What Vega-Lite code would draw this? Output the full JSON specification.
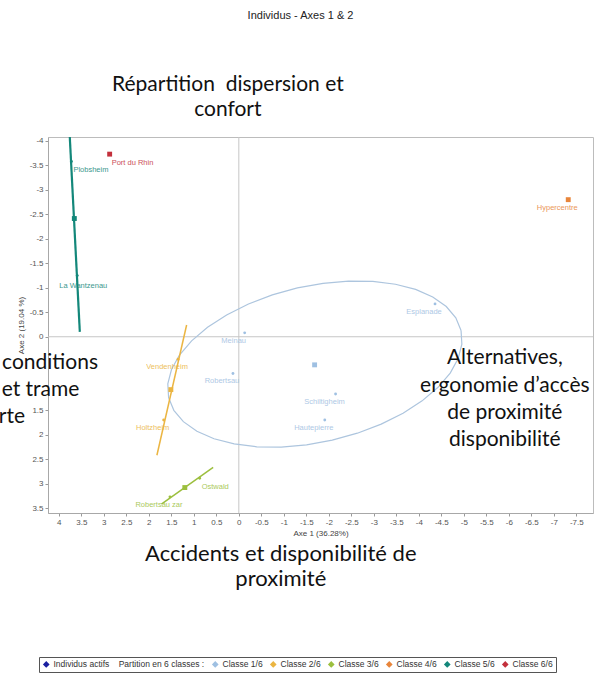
{
  "$schema": "https://vega.github.io/schema/vega-lite/v6.json",
  "width": 545,
  "height": 376,
  "autosize": {"type": "none"},
  "padding": {"left": 48, "top": 137, "right": 3, "bottom": 162},
  "background": "white",
  "title": {"text": "Individus - Axes 1 & 2", "font": "Liberation Sans", "fontSize": 11, "fontWeight": "normal", "color": "#222", "anchor": "middle", "dx": -20, "offset": 53},
  "config": {
    "view": {"stroke": "#bcbcbc", "strokeWidth": 1},
    "axis": {"labelFont": "Liberation Sans", "labelFontSize": 8, "labelColor": "#555", "tickColor": "#9a9a9a", "tickSize": 3, "domainColor": "#a8a8a8", "labelPadding": 2, "titleFont": "Liberation Sans", "titleFontSize": 8, "titleFontWeight": "normal", "titleColor": "#444", "grid": false, "labelFlush": false, "labelOverlap": false},
    "legend": {
      "orient": "none", "legendX": -9, "legendY": 520, "direction": "horizontal",
      "symbolType": "diamond", "symbolSize": 45, "symbolStrokeWidth": 0,
      "labelFont": "Liberation Sans", "labelFontSize": 8.5, "labelColor": "#333", "labelLimit": 400,
      "columnPadding": 6, "labelOffset": 3, "padding": 3, "strokeColor": "#555", "fillColor": "white"
    }
  },
  "datasets": {
    "individus": [
      {"nom": "Meinau", "classe": "Classe 1/6", "axe1": -0.13, "axe2": -0.08},
      {"nom": "Robertsau", "classe": "Classe 1/6", "axe1": 0.13, "axe2": 0.75},
      {"nom": "Esplanade", "classe": "Classe 1/6", "axe1": -4.36, "axe2": -0.67},
      {"nom": "Schiltigheim", "classe": "Classe 1/6", "axe1": -2.15, "axe2": 1.17},
      {"nom": "Hautepierre", "classe": "Classe 1/6", "axe1": -1.91, "axe2": 1.70},
      {"nom": "Vendenheim", "classe": "Classe 2/6", "axe1": 1.35, "axe2": 0.46},
      {"nom": "Holtzheim", "classe": "Classe 2/6", "axe1": 1.67, "axe2": 1.70},
      {"nom": "Ostwald", "classe": "Classe 3/6", "axe1": 0.87, "axe2": 2.89},
      {"nom": "Robertsau zar", "classe": "Classe 3/6", "axe1": 1.53, "axe2": 3.27},
      {"nom": "Hypercentre", "classe": "Classe 4/6", "axe1": -7.32, "axe2": -2.80},
      {"nom": "Plobsheim", "classe": "Classe 5/6", "axe1": 3.72, "axe2": -3.58},
      {"nom": "La Wantzenau", "classe": "Classe 5/6", "axe1": 3.59, "axe2": -1.25},
      {"nom": "Port du Rhin", "classe": "Classe 6/6", "axe1": 2.87, "axe2": -3.73}
    ],
    "axes_classes": [
      {"classe": "Classe 2/6", "ordre": 0, "axe1": 1.16, "axe2": -0.24},
      {"classe": "Classe 2/6", "ordre": 1, "axe1": 1.82, "axe2": 2.42},
      {"classe": "Classe 3/6", "ordre": 0, "axe1": 0.57, "axe2": 2.67},
      {"classe": "Classe 3/6", "ordre": 1, "axe1": 1.72, "axe2": 3.42},
      {"classe": "Classe 5/6", "ordre": 0, "axe1": 3.756, "axe2": -4.08},
      {"classe": "Classe 5/6", "ordre": 1, "axe1": 3.533, "axe2": -0.10}
    ],
    "ellipse": [
      {"ordre": 0, "axe1": -4.938, "axe2": -0.127},
      {"ordre": 1, "axe1": -4.956, "axe2": 0.153},
      {"ordre": 2, "axe1": -4.874, "axe2": 0.446},
      {"ordre": 3, "axe1": -4.697, "axe2": 0.743},
      {"ordre": 4, "axe1": -4.427, "axe2": 1.033},
      {"ordre": 5, "axe1": -4.073, "axe2": 1.309},
      {"ordre": 6, "axe1": -3.649, "axe2": 1.562},
      {"ordre": 7, "axe1": -3.164, "axe2": 1.785},
      {"ordre": 8, "axe1": -2.634, "axe2": 1.970},
      {"ordre": 9, "axe1": -2.076, "axe2": 2.113},
      {"ordre": 10, "axe1": -1.506, "axe2": 2.208},
      {"ordre": 11, "axe1": -0.942, "axe2": 2.253},
      {"ordre": 12, "axe1": -0.399, "axe2": 2.248},
      {"ordre": 13, "axe1": 0.103, "axe2": 2.189},
      {"ordre": 14, "axe1": 0.551, "axe2": 2.083},
      {"ordre": 15, "axe1": 0.931, "axe2": 1.929},
      {"ordre": 16, "axe1": 1.232, "axe2": 1.734},
      {"ordre": 17, "axe1": 1.444, "axe2": 1.503},
      {"ordre": 18, "axe1": 1.560, "axe2": 1.243},
      {"ordre": 19, "axe1": 1.578, "axe2": 0.963},
      {"ordre": 20, "axe1": 1.496, "axe2": 0.670},
      {"ordre": 21, "axe1": 1.319, "axe2": 0.373},
      {"ordre": 22, "axe1": 1.049, "axe2": 0.083},
      {"ordre": 23, "axe1": 0.695, "axe2": -0.193},
      {"ordre": 24, "axe1": 0.271, "axe2": -0.446},
      {"ordre": 25, "axe1": -0.214, "axe2": -0.669},
      {"ordre": 26, "axe1": -0.744, "axe2": -0.854},
      {"ordre": 27, "axe1": -1.302, "axe2": -0.997},
      {"ordre": 28, "axe1": -1.872, "axe2": -1.092},
      {"ordre": 29, "axe1": -2.436, "axe2": -1.137},
      {"ordre": 30, "axe1": -2.979, "axe2": -1.132},
      {"ordre": 31, "axe1": -3.481, "axe2": -1.073},
      {"ordre": 32, "axe1": -3.929, "axe2": -0.967},
      {"ordre": 33, "axe1": -4.309, "axe2": -0.813},
      {"ordre": 34, "axe1": -4.610, "axe2": -0.618},
      {"ordre": 35, "axe1": -4.822, "axe2": -0.387},
      {"ordre": 36, "axe1": -4.938, "axe2": -0.127}
    ],
    "annotations": [
      {"texte": "Répartition\u00a0\u00a0dispersion et", "axe1": 0.244, "axe2": -5.147},
      {"texte": "confort", "axe1": 0.244, "axe2": -4.636},
      {"texte": "Alternatives,", "axe1": -5.911, "axe2": 0.436},
      {"texte": "ergonomie d’accès", "axe1": -5.911, "axe2": 1.008},
      {"texte": "de proximité", "axe1": -5.911, "axe2": 1.560},
      {"texte": "disponibilité", "axe1": -5.911, "axe2": 2.112},
      {"texte": "Accidents et disponibilité de", "axe1": -0.933, "axe2": 4.429},
      {"texte": "proximité", "axe1": -0.933, "axe2": 4.941},
      {"texte": "conditions", "axe1": 5.26, "axe2": 0.538},
      {"texte": "et trame", "axe1": 5.27, "axe2": 1.090},
      {"texte": "rte", "axe1": 5.333, "axe2": 1.642}
    ]
  },
  "encoding": {
    "x": {
      "field": "axe1", "type": "quantitative",
      "scale": {"domain": [-7.87, 4.24], "reverse": true, "nice": false, "zero": false},
      "axis": {"title": "Axe 1 (36.28%)", "titlePadding": 3, "values": [-7.5, -7, -6.5, -6, -5.5, -5, -4.5, -4, -3.5, -3, -2.5, -2, -1.5, -1, -0.5, 0, 0.5, 1, 1.5, 2, 2.5, 3, 3.5, 4], "labelExpr": "'' + datum.value"}
    },
    "y": {
      "field": "axe2", "type": "quantitative",
      "scale": {"domain": [-4.08, 3.6], "reverse": true, "nice": false, "zero": false},
      "axis": {"title": "Axe 2 (19.04 %)", "titlePadding": 4, "values": [-4, -3.5, -3, -2.5, -2, -1.5, -1, -0.5, 0, 1.5, 2, 2.5, 3, 3.5], "labelExpr": "'' + datum.value"}
    },
    "color": {
      "field": "classe", "type": "nominal",
      "scale": {"domain": ["Individus actifs", "Classe 1/6", "Classe 2/6", "Classe 3/6", "Classe 4/6", "Classe 5/6", "Classe 6/6"], "range": ["#1a1fa0", "#9fc0e2", "#ebb542", "#9cbf3e", "#e8853a", "#13877a", "#c3303c"]},
      "legend": {
        "title": null,
        "labelExpr": "datum.label == 'Individus actifs' ? 'Individus actifs\u00a0\u00a0\u00a0\u00a0Partition en 6 classes :' : datum.label"
      }
    }
  },
  "layer": [
    {
      "data": {"values": [{"axe1": 0, "axe2": -4.08, "axe2_fin": 3.6}]},
      "mark": {"type": "rule", "color": "#c6c6c6", "strokeWidth": 1},
      "encoding": {"y2": {"field": "axe2_fin"}, "color": {"value": "#c6c6c6"}}
    },
    {
      "data": {"values": [{"axe1": 4.24, "axe1_fin": -7.87, "axe2": 0}]},
      "mark": {"type": "rule", "color": "#c6c6c6", "strokeWidth": 1},
      "encoding": {"x2": {"field": "axe1_fin"}, "color": {"value": "#c6c6c6"}}
    },
    {
      "data": {"name": "ellipse"},
      "mark": {"type": "line", "color": "#adc5de", "strokeWidth": 1.2, "clip": true},
      "encoding": {"order": {"field": "ordre", "type": "quantitative"}, "color": {"value": "#adc5de"}}
    },
    {
      "data": {"name": "axes_classes"},
      "mark": {"type": "line", "clip": true},
      "encoding": {
        "order": {"field": "ordre", "type": "quantitative"},
        "detail": {"field": "classe", "type": "nominal"},
        "strokeWidth": {"condition": {"test": "datum.classe === 'Classe 5/6'", "value": 2.2}, "value": 1.5}
      }
    },
    {
      "data": {"name": "individus"},
      "mark": {"type": "point", "filled": true, "shape": "circle", "size": 8, "opacity": 1}
    },
    {
      "data": {"name": "individus"},
      "transform": [{"aggregate": [{"op": "mean", "field": "axe1", "as": "axe1"}, {"op": "mean", "field": "axe2", "as": "axe2"}], "groupby": ["classe"]}],
      "mark": {"type": "square", "filled": true, "size": 24, "opacity": 1}
    },
    {
      "data": {"name": "individus"},
      "transform": [{"filter": {"field": "nom", "oneOf": ["Meinau", "Robertsau", "Esplanade", "Schiltigheim", "Hautepierre", "Hypercentre", "Vendenheim", "Holtzheim", "Robertsau zar"]}}],
      "mark": {"type": "text", "font": "Liberation Sans", "fontSize": 7.5, "align": "center", "baseline": "middle", "dx": -11, "dy": 8, "opacity": 0.85},
      "encoding": {"text": {"field": "nom"}}
    },
    {
      "data": {"name": "individus"},
      "transform": [{"filter": {"field": "nom", "oneOf": ["Port du Rhin", "Plobsheim", "Ostwald"]}}],
      "mark": {"type": "text", "font": "Liberation Sans", "fontSize": 7.5, "align": "left", "baseline": "middle", "dx": 2, "dy": 9, "opacity": 0.85},
      "encoding": {"text": {"field": "nom"}}
    },
    {
      "data": {"name": "individus"},
      "transform": [{"filter": {"field": "nom", "oneOf": ["La Wantzenau"]}}],
      "mark": {"type": "text", "font": "Liberation Sans", "fontSize": 7.5, "align": "center", "baseline": "middle", "dx": 6, "dy": 10, "opacity": 0.85},
      "encoding": {"text": {"field": "nom"}}
    },
    {
      "data": {"name": "annotations"},
      "transform": [{"filter": {"field": "texte", "oneOf": ["Répartition\u00a0\u00a0dispersion et", "confort", "Alternatives,", "ergonomie d’accès", "de proximité", "disponibilité"]}}],
      "mark": {"type": "text", "font": "Lato", "fontSize": 21, "align": "center", "baseline": "middle", "color": "#111"},
      "encoding": {"text": {"field": "texte"}, "color": {"value": "#111"}}
    },
    {
      "data": {"name": "annotations"},
      "transform": [{"filter": {"field": "texte", "oneOf": ["Accidents et disponibilité de", "proximité"]}}],
      "mark": {"type": "text", "font": "Lato", "fontSize": 22, "align": "center", "baseline": "middle", "color": "#111"},
      "encoding": {"text": {"field": "texte"}, "color": {"value": "#111"}}
    },
    {
      "data": {"name": "annotations"},
      "transform": [{"filter": {"field": "texte", "oneOf": ["conditions", "et trame", "rte"]}}],
      "mark": {"type": "text", "font": "Lato", "fontSize": 21, "align": "left", "baseline": "middle", "color": "#111"},
      "encoding": {"text": {"field": "texte"}, "color": {"value": "#111"}}
    }
  ]
}
